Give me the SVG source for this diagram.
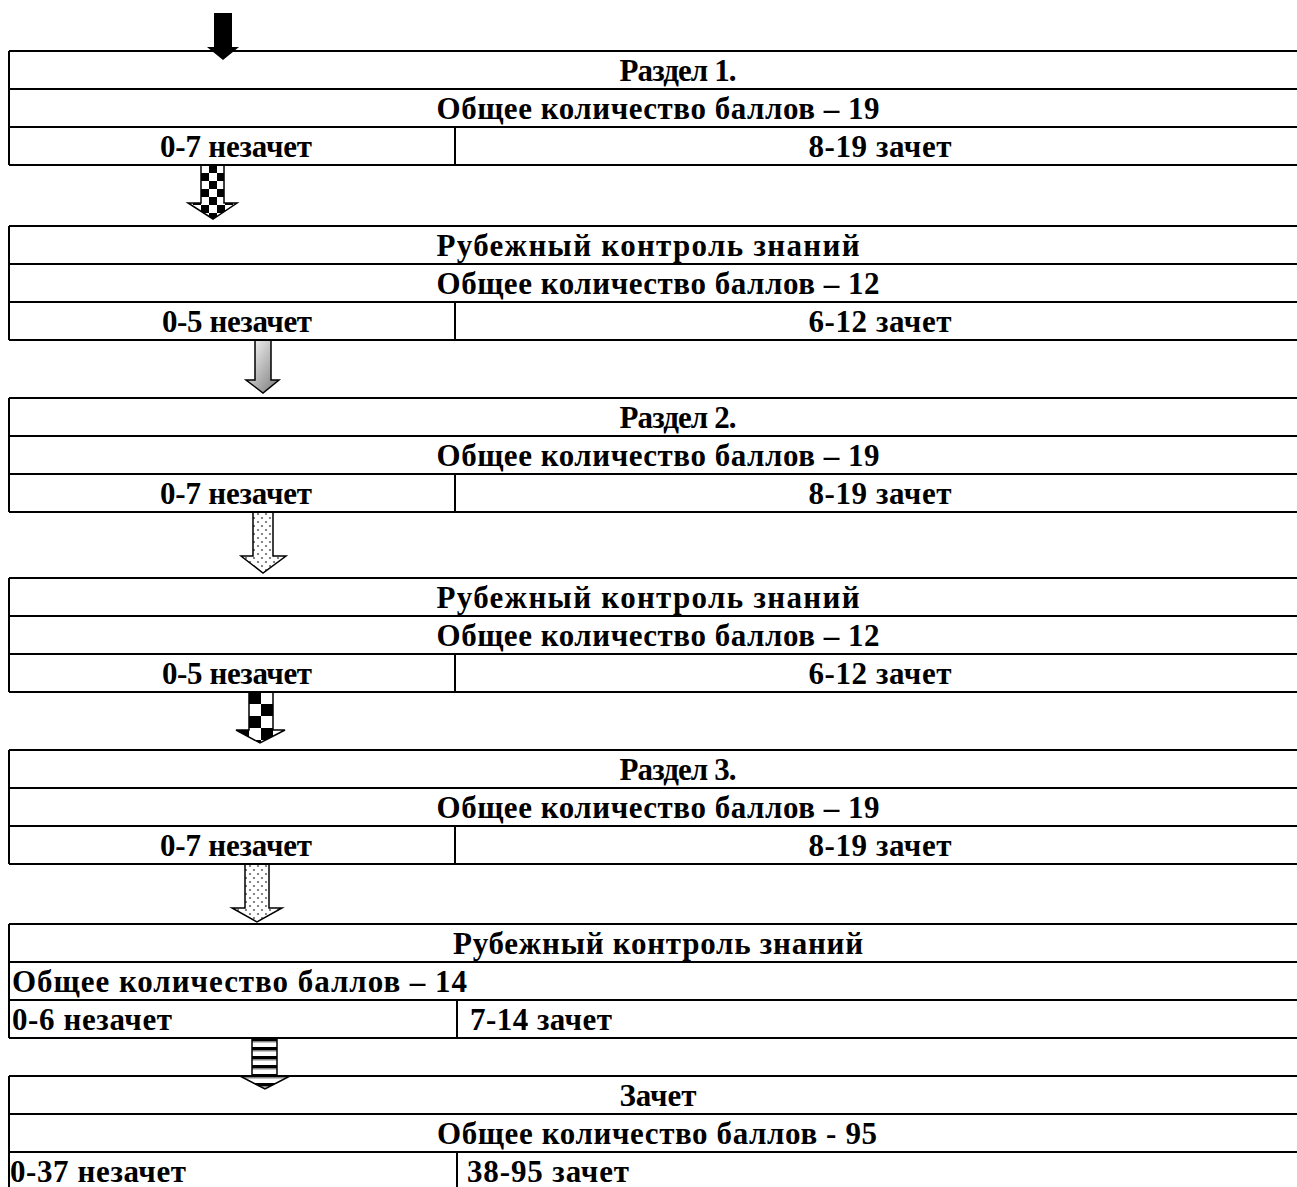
<svg xmlns="http://www.w3.org/2000/svg" width="1297" height="1187" viewBox="0 0 1297 1187">
<defs>
<style>
.t{font-family:"Liberation Serif","Times New Roman",serif;font-weight:bold;font-size:31px;fill:#000}
.c{text-anchor:middle}
.ln{stroke:#000;stroke-width:2;fill:none}
.ar{stroke:#000;stroke-width:1.5;stroke-linejoin:miter}
</style>
<pattern id="chk1" x="201" y="165" width="16" height="16" patternUnits="userSpaceOnUse">
<rect width="16" height="16" fill="#fff"/><rect x="8" width="8" height="8" fill="#000"/><rect y="8" width="8" height="8" fill="#000"/>
</pattern>
<pattern id="chk2" x="249" y="692" width="24" height="24" patternUnits="userSpaceOnUse">
<rect width="24" height="24" fill="#fff"/><rect width="12" height="12" fill="#000"/><rect x="12" y="12" width="12" height="12" fill="#000"/>
</pattern>
<pattern id="dots" width="8" height="8" patternUnits="userSpaceOnUse">
<rect width="8" height="8" fill="#fff"/><circle cx="2" cy="2" r="1.1" fill="#666"/><circle cx="6" cy="6" r="1.1" fill="#666"/>
</pattern>
<pattern id="stripes" x="0" y="1038" width="8" height="9" patternUnits="userSpaceOnUse">
<rect width="8" height="9" fill="#fff"/><rect y="0" width="8" height="3" fill="#000"/><rect y="3" width="8" height="1.5" fill="#888"/>
</pattern>
<linearGradient id="grad" x1="0" y1="0" x2="1" y2="1">
<stop offset="0" stop-color="#fff"/><stop offset="1" stop-color="#777"/>
</linearGradient>
</defs>

<g id="connectors">
<path id="a1" d="M214,13 H232 V47 H239 L223,60 L207,47 H214 Z" fill="#000"/>
<path id="a2" class="ar" d="M201,165 H224 V203 H237 L213,219 L188,203 H201 Z" fill="url(#chk1)"/>
<path id="a3" class="ar" d="M255,340 H271 V380 H279 L263,393 L246,380 H255 Z" fill="url(#grad)"/>
<path id="a4" class="ar" d="M253,512 H273 V556 H286 L263,573 L241,556 H253 Z" fill="url(#dots)"/>
<path id="a5" class="ar" d="M249,692 H273 V730 H285 L260,743 L236,730 H249 Z" fill="url(#chk2)"/>
<path id="a6" class="ar" d="M245,864 H269 V908 H282 L257,922 L232,908 H245 Z" fill="url(#dots)"/>
<path id="a7" class="ar" d="M252,1038 H277 V1076 H290 L265,1089 L240,1076 H252 Z" fill="url(#stripes)"/>
</g>

<g id="table1">
<path class="ln" d="M9,51 H1305 M9,89 H1305 M9,127 H1305 M9,165 H1305 M9,51 V165 M455,127 V165"/>
<text class="t c" x="678" y="81" textLength="117">Раздел 1.</text>
<text class="t c" x="658" y="119" textLength="443">Общее количество баллов – 19</text>
<text class="t c" x="236" y="157" textLength="152">0-7 незачет</text>
<text class="t c" x="880" y="157" textLength="143">8-19 зачет</text>
</g>

<g id="table2">
<path class="ln" d="M9,226 H1305 M9,264 H1305 M9,302 H1305 M9,340 H1305 M9,226 V340 M455,302 V340"/>
<text class="t c" x="648" y="256" textLength="423">Рубежный контроль знаний</text>
<text class="t c" x="658" y="294" textLength="443">Общее количество баллов – 12</text>
<text class="t c" x="237" y="332" textLength="150">0-5 незачет</text>
<text class="t c" x="880" y="332" textLength="143">6-12 зачет</text>
</g>

<g id="table3">
<path class="ln" d="M9,398 H1305 M9,436 H1305 M9,474 H1305 M9,512 H1305 M9,398 V512 M455,474 V512"/>
<text class="t c" x="678" y="428" textLength="117">Раздел 2.</text>
<text class="t c" x="658" y="466" textLength="443">Общее количество баллов – 19</text>
<text class="t c" x="236" y="504" textLength="152">0-7 незачет</text>
<text class="t c" x="880" y="504" textLength="143">8-19 зачет</text>
</g>

<g id="table4">
<path class="ln" d="M9,578 H1305 M9,616 H1305 M9,654 H1305 M9,692 H1305 M9,578 V692 M455,654 V692"/>
<text class="t c" x="648" y="608" textLength="423">Рубежный контроль знаний</text>
<text class="t c" x="658" y="646" textLength="443">Общее количество баллов – 12</text>
<text class="t c" x="237" y="684" textLength="150">0-5 незачет</text>
<text class="t c" x="880" y="684" textLength="143">6-12 зачет</text>
</g>

<g id="table5">
<path class="ln" d="M9,750 H1305 M9,788 H1305 M9,826 H1305 M9,864 H1305 M9,750 V864 M455,826 V864"/>
<text class="t c" x="678" y="780" textLength="117">Раздел 3.</text>
<text class="t c" x="658" y="818" textLength="443">Общее количество баллов – 19</text>
<text class="t c" x="236" y="856" textLength="152">0-7 незачет</text>
<text class="t c" x="880" y="856" textLength="143">8-19 зачет</text>
</g>

<g id="table6">
<path class="ln" d="M9,924 H1305 M9,962 H1305 M9,1000 H1305 M9,1038 H1305 M9,924 V1038 M457,1000 V1038"/>
<text class="t c" x="658" y="954" textLength="410">Рубежный контроль знаний</text>
<text class="t" x="12" y="992" textLength="455">Общее количество баллов – 14</text>
<text class="t" x="12" y="1030" textLength="160">0-6 незачет</text>
<text class="t" x="470" y="1030" textLength="142">7-14 зачет</text>
</g>

<g id="table7">
<path class="ln" d="M9,1076 H1305 M9,1114 H1305 M9,1152 H1305 M9,1190 H1305 M9,1076 V1190 M457,1152 V1190"/>
<text class="t c" x="658" y="1106">Зачет</text>
<text class="t c" x="657" y="1144" textLength="440">Общее количество баллов - 95</text>
<text class="t" x="10" y="1182" textLength="176">0-37 незачет</text>
<text class="t" x="467" y="1182" textLength="162">38-95 зачет</text>
</g>
</svg>
